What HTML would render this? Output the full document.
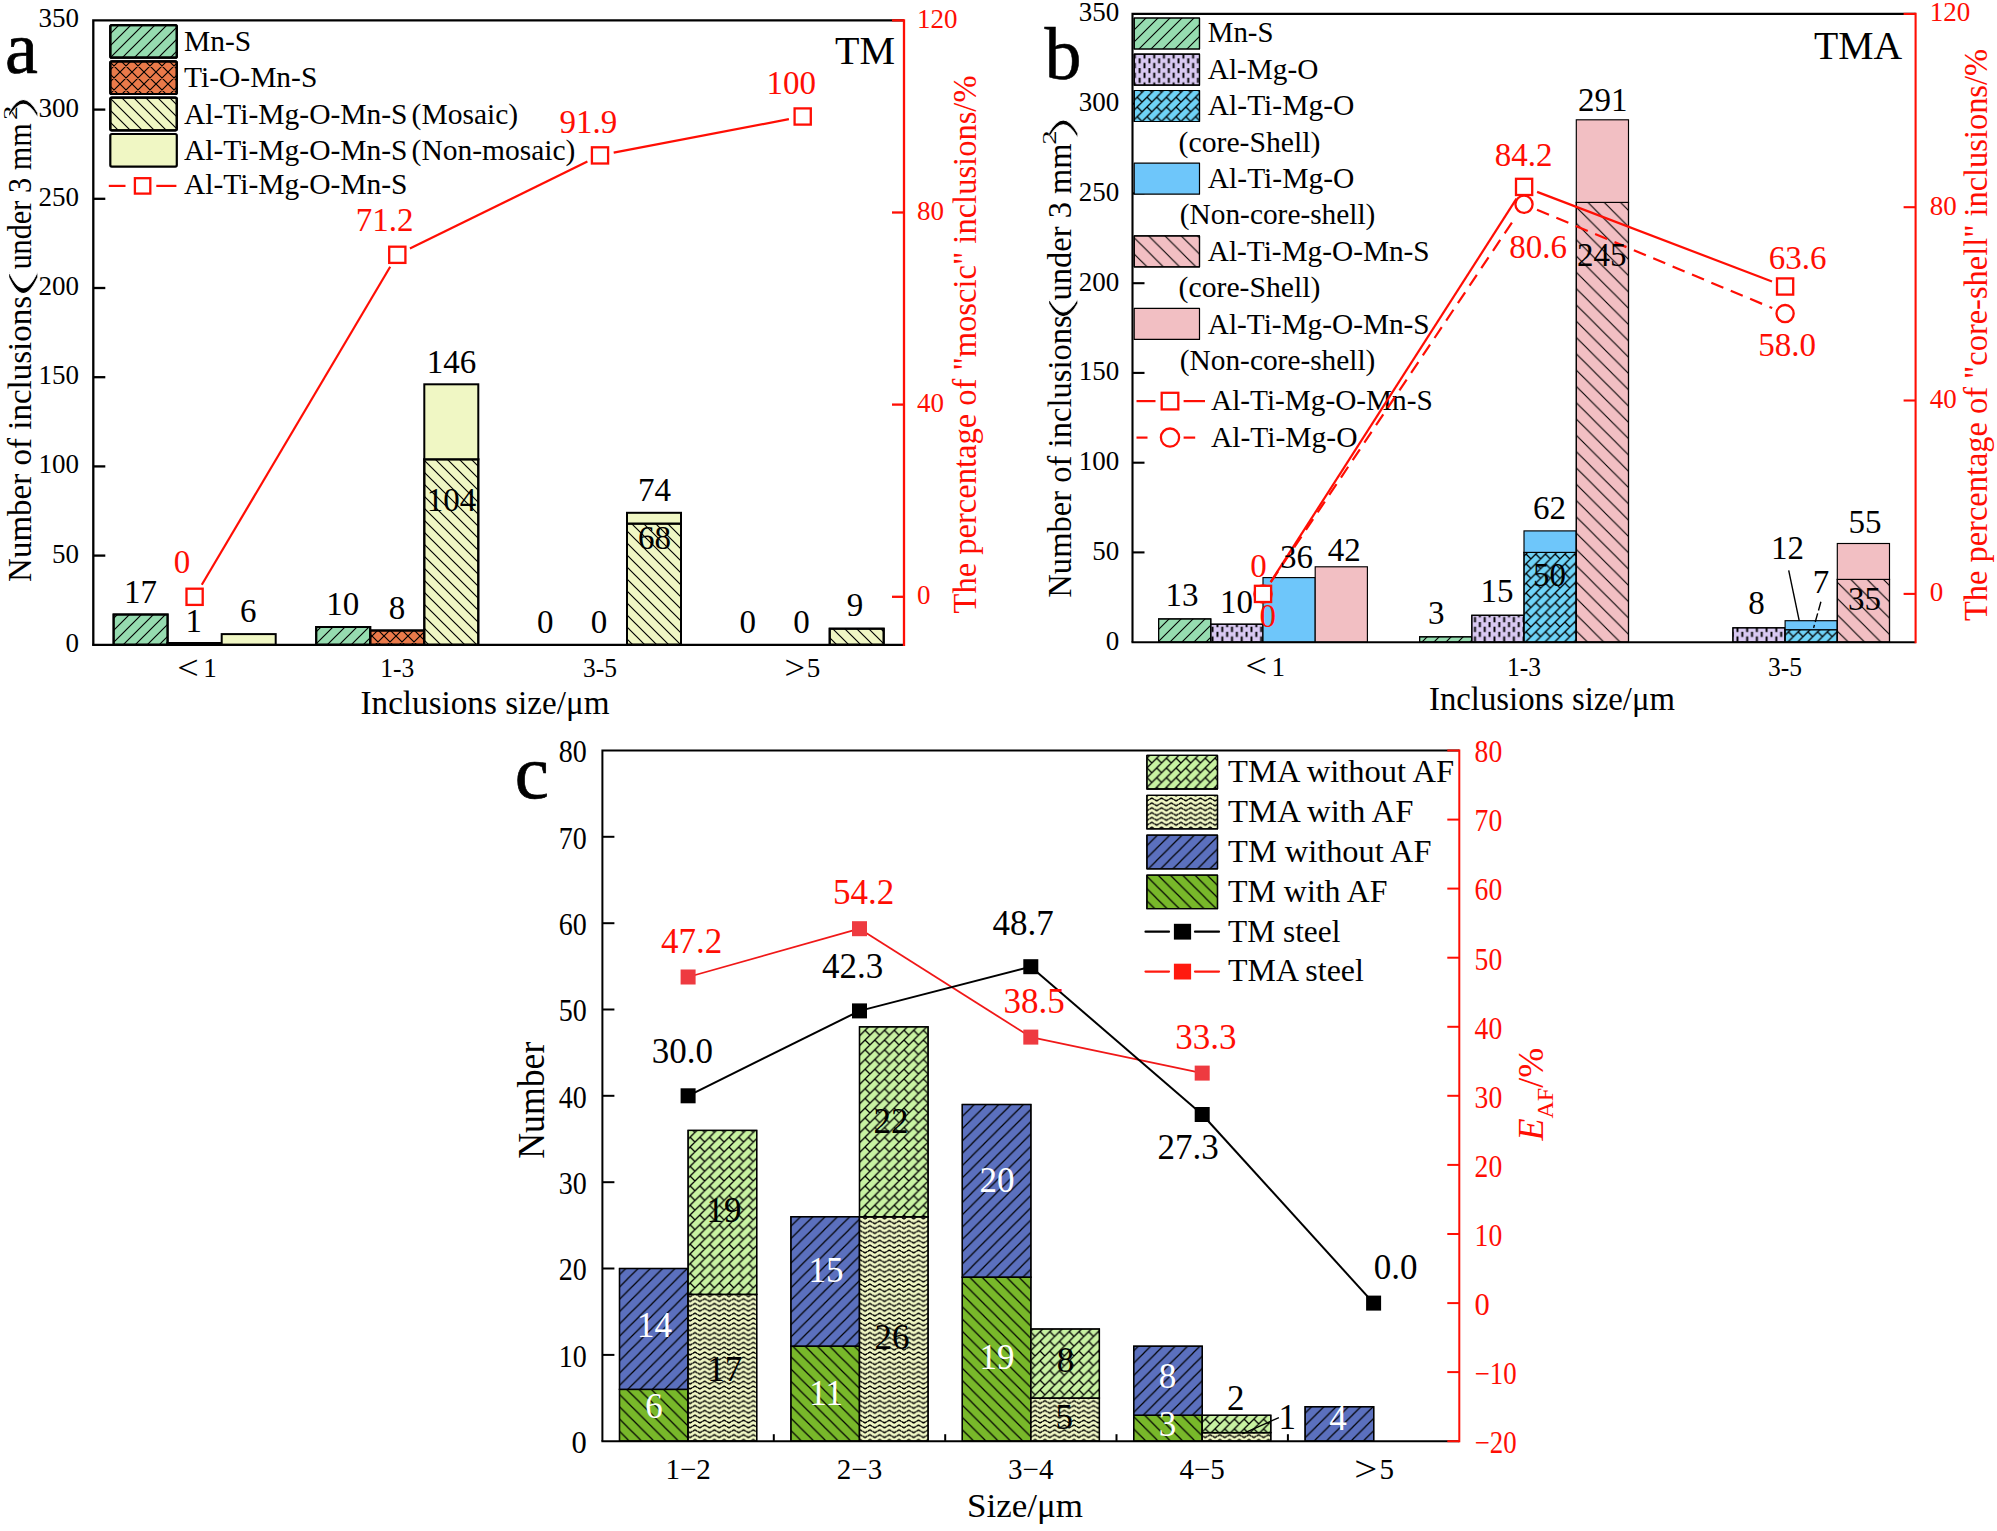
<!DOCTYPE html>
<html lang="en"><head><meta charset="utf-8"><title>Inclusion statistics</title>
<style>html,body{margin:0;padding:0;background:#fff}body{width:1997px;height:1531px}svg{display:block}text{font-family:"Liberation Serif",serif}</style></head><body>
<svg width="1997" height="1531" viewBox="0 0 1997 1531">
<rect width="1997" height="1531" fill="#fff"/>
<defs>
<pattern id="hf" width="12" height="12" patternUnits="userSpaceOnUse"><path d="M0,12 L12,0 M-1,1 L1,-1 M11,13 L13,11" stroke="#000" stroke-width="1.15" fill="none"/></pattern>
<pattern id="hb" width="12" height="12" patternUnits="userSpaceOnUse"><path d="M0,0 L12,12 M-1,11 L1,13 M11,-1 L13,1" stroke="#000" stroke-width="1.15" fill="none"/></pattern>
<pattern id="hbw" width="16.3" height="16.3" patternUnits="userSpaceOnUse"><path d="M0,0 L16.3,16.3 M-1,15.3 L1,17.3 M15.3,-1 L17.3,1" stroke="#000" stroke-width="1.1" fill="none"/></pattern>
<pattern id="hfb" width="12" height="12" patternUnits="userSpaceOnUse"><path d="M0,12 L12,0 M-1,1 L1,-1 M11,13 L13,11" stroke="#000" stroke-width="1.1" fill="none"/></pattern>
<pattern id="hf13" width="12.3" height="12.3" patternUnits="userSpaceOnUse"><path d="M0,12.3 L12.3,0 M-1,1 L1,-1 M11.3,13.3 L13.3,11.3" stroke="#000" stroke-width="1.2" fill="none"/></pattern>
<pattern id="hb13" width="12.3" height="12.3" patternUnits="userSpaceOnUse"><path d="M0,0 L12.3,12.3 M-1,11.3 L1,13.3 M11.3,-1 L13.3,1" stroke="#000" stroke-width="1.2" fill="none"/></pattern>
<pattern id="hx" width="12" height="12" patternUnits="userSpaceOnUse"><path d="M0,12 L12,0 M-1,1 L1,-1 M11,13 L13,11 M0,0 L12,12 M-1,11 L1,13 M11,-1 L13,1" stroke="#000" stroke-width="1.15" fill="none"/></pattern>
<pattern id="br" width="9.72" height="9.72" patternUnits="userSpaceOnUse"><path d="M0,9.72 L9.72,0 M-1,1 L1,-1 M8.72,10.72 L10.72,8.72 M0,0 L4.86,4.86 M9.72,9.72 L10.22,10.22" stroke="#000" stroke-width="1.3" fill="none"/></pattern>
<pattern id="zz" width="9.72" height="4.86" patternUnits="userSpaceOnUse"><path d="M-4.86,1.13 L0,3.73 L4.86,1.13 L9.72,3.73 L14.58,1.13" stroke="#000" stroke-width="0.8" fill="none" stroke-linejoin="miter"/><path d="M-1.90,2.71 L0,3.73 L1.90,2.71 M7.82,2.71 L9.72,3.73 L11.62,2.71 M2.96,2.15 L4.86,1.13 L6.76,2.15" stroke="#000" stroke-width="1.35" fill="none" stroke-linejoin="miter"/></pattern>
<pattern id="vd" width="9.72" height="9.72" patternUnits="userSpaceOnUse"><path d="M2.43,-0.3 V5.16 M7.29,4.56 V10.02 M7.29,-0.5 V0.3" stroke="#000" stroke-width="1.9" fill="none"/></pattern>
</defs>
<g id="chart-a">
<rect x="113.6" y="614.5" width="54.0" height="30.3" fill="#96dcb0" stroke="#000" stroke-width="2"/>
<rect x="113.6" y="614.5" width="54.0" height="30.3" fill="url(#hf)" stroke="#000" stroke-width="2"/>
<rect x="167.6" y="643.0" width="54.0" height="1.8" fill="#ea7a4a" stroke="#000" stroke-width="2"/>
<rect x="167.6" y="643.0" width="54.0" height="1.8" fill="url(#hx)" stroke="#000" stroke-width="2"/>
<rect x="221.7" y="634.1" width="54.0" height="10.7" fill="#f0f7c4" stroke="#000" stroke-width="2"/>
<rect x="316.2" y="627.0" width="54.0" height="17.8" fill="#96dcb0" stroke="#000" stroke-width="2"/>
<rect x="316.2" y="627.0" width="54.0" height="17.8" fill="url(#hf)" stroke="#000" stroke-width="2"/>
<rect x="370.3" y="630.5" width="54.0" height="14.3" fill="#ea7a4a" stroke="#000" stroke-width="2"/>
<rect x="370.3" y="630.5" width="54.0" height="14.3" fill="url(#hx)" stroke="#000" stroke-width="2"/>
<rect x="424.3" y="459.3" width="54.0" height="185.5" fill="#f0f7c4" stroke="#000" stroke-width="2"/>
<rect x="424.3" y="459.3" width="54.0" height="185.5" fill="url(#hb)" stroke="#000" stroke-width="2"/>
<rect x="424.3" y="384.3" width="54.0" height="74.9" fill="#f0f7c4" stroke="#000" stroke-width="2"/>
<rect x="627.0" y="523.5" width="54.0" height="121.3" fill="#f0f7c4" stroke="#000" stroke-width="2"/>
<rect x="627.0" y="523.5" width="54.0" height="121.3" fill="url(#hb)" stroke="#000" stroke-width="2"/>
<rect x="627.0" y="512.8" width="54.0" height="10.7" fill="#f0f7c4" stroke="#000" stroke-width="2"/>
<rect x="829.7" y="628.7" width="54.0" height="16.1" fill="#f0f7c4" stroke="#000" stroke-width="2"/>
<rect x="829.7" y="628.7" width="54.0" height="16.1" fill="url(#hb)" stroke="#000" stroke-width="2"/>
<path d="M93.3,644.8 V20.4 H904.0" fill="none" stroke="#000" stroke-width="2.3" stroke-linejoin="miter"/>
<line x1="92.1" y1="644.8" x2="904.0" y2="644.8" stroke="#000" stroke-width="2.3"/>
<line x1="93.3" y1="555.6" x2="105.3" y2="555.6" stroke="#000" stroke-width="2.3"/>
<line x1="93.3" y1="466.4" x2="105.3" y2="466.4" stroke="#000" stroke-width="2.3"/>
<line x1="93.3" y1="377.2" x2="105.3" y2="377.2" stroke="#000" stroke-width="2.3"/>
<line x1="93.3" y1="288.0" x2="105.3" y2="288.0" stroke="#000" stroke-width="2.3"/>
<line x1="93.3" y1="198.8" x2="105.3" y2="198.8" stroke="#000" stroke-width="2.3"/>
<line x1="93.3" y1="109.6" x2="105.3" y2="109.6" stroke="#000" stroke-width="2.3"/>
<line x1="904.0" y1="19.2" x2="904.0" y2="645.9" stroke="#ff0e04" stroke-width="2.3"/>
<line x1="892.0" y1="596.8" x2="904.0" y2="596.8" stroke="#ff0e04" stroke-width="2.3"/>
<line x1="892.0" y1="404.6" x2="904.0" y2="404.6" stroke="#ff0e04" stroke-width="2.3"/>
<line x1="892.0" y1="212.5" x2="904.0" y2="212.5" stroke="#ff0e04" stroke-width="2.3"/>
<line x1="892.0" y1="20.4" x2="904.0" y2="20.4" stroke="#ff0e04" stroke-width="2.3"/>
<text x="79.1" y="651.8" font-size="27" text-anchor="end">0</text>
<text x="79.1" y="562.6" font-size="27" text-anchor="end">50</text>
<text x="79.1" y="473.4" font-size="27" text-anchor="end">100</text>
<text x="79.1" y="384.2" font-size="27" text-anchor="end">150</text>
<text x="79.1" y="295.0" font-size="27" text-anchor="end">200</text>
<text x="79.1" y="205.8" font-size="27" text-anchor="end">250</text>
<text x="79.1" y="116.6" font-size="27" text-anchor="end">300</text>
<text x="79.1" y="27.4" font-size="27" text-anchor="end">350</text>
<text x="917.0" y="604.3" font-size="27" fill="#ff0e04">0</text>
<text x="917.0" y="412.1" font-size="27" fill="#ff0e04">40</text>
<text x="917.0" y="220.0" font-size="27" fill="#ff0e04">80</text>
<text x="917.0" y="27.9" font-size="27" fill="#ff0e04">120</text>
<text x="397.3" y="677.2" font-size="27" text-anchor="middle" textLength="34.0" lengthAdjust="spacingAndGlyphs">1-3</text>
<text x="600.0" y="677.2" font-size="27" text-anchor="middle" textLength="34.0" lengthAdjust="spacingAndGlyphs">3-5</text>
<text y="677.4" font-size="27"><tspan x="177.3" dy="1.6" font-size="33.8" textLength="21.5" lengthAdjust="spacingAndGlyphs">&lt;</tspan><tspan x="203.3" dy="-1.6">1</tspan></text>
<text y="677.4" font-size="27"><tspan x="784.6" dy="1.6" font-size="33.8" textLength="20.5" lengthAdjust="spacingAndGlyphs">&gt;</tspan><tspan x="806.8" dy="-1.6">5</tspan></text>
<text x="485.0" y="713.6" font-size="33" text-anchor="middle" textLength="249.0" lengthAdjust="spacingAndGlyphs">Inclusions size/μm</text>
<g transform="translate(31.4,581.9) rotate(-90)">
<text x="0" y="0" font-size="33" textLength="286" lengthAdjust="spacingAndGlyphs">Number of inclusions</text>
<text transform="translate(275.3,2) scale(3.719,1)" font-size="32" style="font-family:DejaVu Sans,sans-serif;font-weight:200" stroke="#fff" stroke-width="0.3">(</text>
<text x="312.3" y="0" font-size="33" textLength="146.5" lengthAdjust="spacingAndGlyphs">under 3 mm</text>
<text transform="translate(461.8,-14.9) scale(1.55,1)" font-size="18.5">2</text>
<text transform="translate(454.4,2) scale(3.041,1)" font-size="32" style="font-family:DejaVu Sans,sans-serif;font-weight:200" stroke="#fff" stroke-width="0.3">)</text>
</g>
<text transform="translate(975.7,613.5) rotate(-90)" font-size="33" fill="#ff0e04" textLength="538" lengthAdjust="spacingAndGlyphs">The percentage of "moscic" inclusions/%</text>
<line x1="201.8" y1="584.7" x2="390.2" y2="266.8" stroke="#ff0e04" stroke-width="2.2"/>
<line x1="409.9" y1="248.6" x2="587.4" y2="161.5" stroke="#ff0e04" stroke-width="2.2"/>
<line x1="613.7" y1="152.7" x2="788.9" y2="119.1" stroke="#ff0e04" stroke-width="2.2"/>
<rect x="186.5" y="588.7" width="16.2" height="16.2" fill="#fff" stroke="#ff0e04" stroke-width="2.3"/>
<rect x="389.2" y="246.7" width="16.2" height="16.2" fill="#fff" stroke="#ff0e04" stroke-width="2.3"/>
<rect x="591.9" y="147.3" width="16.2" height="16.2" fill="#fff" stroke="#ff0e04" stroke-width="2.3"/>
<rect x="794.6" y="108.4" width="16.2" height="16.2" fill="#fff" stroke="#ff0e04" stroke-width="2.3"/>
<text x="384.6" y="231.3" font-size="33" text-anchor="middle" fill="#ff0e04">71.2</text>
<text x="588.4" y="132.7" font-size="33" text-anchor="middle" fill="#ff0e04">91.9</text>
<text x="791.2" y="93.6" font-size="33" text-anchor="middle" fill="#ff0e04">100</text>
<text x="182.0" y="573.0" font-size="33" text-anchor="middle" fill="#ff0e04">0</text>
<text x="140.4" y="603.1" font-size="33" text-anchor="middle">17</text>
<text x="193.8" y="631.8" font-size="33" text-anchor="middle">1</text>
<text x="248.2" y="621.9" font-size="33" text-anchor="middle">6</text>
<text x="342.7" y="614.8" font-size="33" text-anchor="middle">10</text>
<text x="397.0" y="618.8" font-size="33" text-anchor="middle">8</text>
<text x="451.4" y="372.8" font-size="33" text-anchor="middle">146</text>
<text x="451.4" y="511.0" font-size="33" text-anchor="middle">104</text>
<text x="654.5" y="500.6" font-size="33" text-anchor="middle">74</text>
<text x="654.5" y="549.2" font-size="33" text-anchor="middle">68</text>
<text x="545.3" y="632.8" font-size="33" text-anchor="middle">0</text>
<text x="598.9" y="632.8" font-size="33" text-anchor="middle">0</text>
<text x="747.8" y="632.8" font-size="33" text-anchor="middle">0</text>
<text x="801.4" y="632.8" font-size="33" text-anchor="middle">0</text>
<text x="855.0" y="616.3" font-size="33" text-anchor="middle">9</text>
<text x="5.0" y="72.5" font-size="74" stroke="#000" stroke-width="0.7">a</text>
<text x="835.0" y="64.0" font-size="40" textLength="60.0" lengthAdjust="spacingAndGlyphs">TM</text>
<rect x="110.3" y="25.1" width="66.5" height="32.6" fill="#96dcb0" stroke="#000" stroke-width="2.2" rx="1.5" stroke-linejoin="round"/>
<rect x="110.3" y="25.1" width="66.5" height="32.6" fill="url(#hf)" stroke="#000" stroke-width="2.2" rx="1.5" stroke-linejoin="round"/>
<text x="184.0" y="50.8" font-size="29.5">Mn-S</text>
<rect x="110.3" y="61.4" width="66.5" height="32.6" fill="#ea7a4a" stroke="#000" stroke-width="2.2" rx="1.5" stroke-linejoin="round"/>
<rect x="110.3" y="61.4" width="66.5" height="32.6" fill="url(#hx)" stroke="#000" stroke-width="2.2" rx="1.5" stroke-linejoin="round"/>
<text x="184.0" y="87.0" font-size="29.5">Ti-O-Mn-S</text>
<rect x="110.3" y="97.7" width="66.5" height="32.6" fill="#f0f7c4" stroke="#000" stroke-width="2.2" rx="1.5" stroke-linejoin="round"/>
<rect x="110.3" y="97.7" width="66.5" height="32.6" fill="url(#hb)" stroke="#000" stroke-width="2.2" rx="1.5" stroke-linejoin="round"/>
<text y="123.5" font-size="29.5"><tspan x="184">Al-Ti-Mg-O-Mn-S</tspan><tspan x="411.6">(Mosaic)</tspan></text>
<rect x="110.3" y="134.0" width="66.5" height="32.6" fill="#f0f7c4" stroke="#000" stroke-width="2.2" rx="1.5" stroke-linejoin="round"/>
<text y="159.8" font-size="29.5"><tspan x="184">Al-Ti-Mg-O-Mn-S</tspan><tspan x="411.6">(Non-mosaic)</tspan></text>
<line x1="108.8" y1="185.9" x2="125.5" y2="185.9" stroke="#ff0e04" stroke-width="2.2"/>
<line x1="156.3" y1="185.9" x2="176.4" y2="185.9" stroke="#ff0e04" stroke-width="2.2"/>
<rect x="134.9" y="178.2" width="15.4" height="15.4" fill="#fff" stroke="#ff0e04" stroke-width="2.3"/>
<text x="184.0" y="193.6" font-size="29.5">Al-Ti-Mg-O-Mn-S</text>
</g>
<g id="chart-b">
<rect x="1158.6" y="618.9" width="52.2" height="23.3" fill="#96dcb0" stroke="#000" stroke-width="1.15"/>
<rect x="1158.6" y="618.9" width="52.2" height="23.3" fill="url(#hfb)" stroke="#000" stroke-width="1.15"/>
<rect x="1210.8" y="624.2" width="52.2" height="18.0" fill="#d9c9f2" stroke="#000" stroke-width="1.15"/>
<rect x="1210.8" y="624.2" width="52.2" height="18.0" fill="url(#vd)" stroke="#000" stroke-width="1.15"/>
<rect x="1263.0" y="577.6" width="52.2" height="64.6" fill="#6ec6fa" stroke="#000" stroke-width="1.15"/>
<rect x="1315.2" y="566.8" width="52.2" height="75.4" fill="#f2bfc3" stroke="#000" stroke-width="1.15"/>
<rect x="1419.6" y="636.8" width="52.2" height="5.4" fill="#96dcb0" stroke="#000" stroke-width="1.15"/>
<rect x="1419.6" y="636.8" width="52.2" height="5.4" fill="url(#hfb)" stroke="#000" stroke-width="1.15"/>
<rect x="1471.8" y="615.3" width="52.2" height="26.9" fill="#d9c9f2" stroke="#000" stroke-width="1.15"/>
<rect x="1471.8" y="615.3" width="52.2" height="26.9" fill="url(#vd)" stroke="#000" stroke-width="1.15"/>
<rect x="1524.0" y="552.4" width="52.2" height="89.8" fill="#6fd3f7" stroke="#000" stroke-width="1.15"/>
<rect x="1524.0" y="552.4" width="52.2" height="89.8" fill="url(#br)" stroke="#000" stroke-width="1.15"/>
<rect x="1524.0" y="530.9" width="52.2" height="21.5" fill="#6ec6fa" stroke="#000" stroke-width="1.15"/>
<rect x="1576.3" y="202.4" width="52.2" height="439.8" fill="#f2bfc3" stroke="#000" stroke-width="1.15"/>
<rect x="1576.3" y="202.4" width="52.2" height="439.8" fill="url(#hbw)" stroke="#000" stroke-width="1.15"/>
<rect x="1576.3" y="119.8" width="52.2" height="82.6" fill="#f2bfc3" stroke="#000" stroke-width="1.15"/>
<rect x="1732.9" y="627.8" width="52.2" height="14.4" fill="#d9c9f2" stroke="#000" stroke-width="1.15"/>
<rect x="1732.9" y="627.8" width="52.2" height="14.4" fill="url(#vd)" stroke="#000" stroke-width="1.15"/>
<rect x="1785.1" y="629.6" width="52.2" height="12.6" fill="#6fd3f7" stroke="#000" stroke-width="1.15"/>
<rect x="1785.1" y="629.6" width="52.2" height="12.6" fill="url(#br)" stroke="#000" stroke-width="1.15"/>
<rect x="1785.1" y="620.7" width="52.2" height="9.0" fill="#6ec6fa" stroke="#000" stroke-width="1.15"/>
<rect x="1837.3" y="579.4" width="52.2" height="62.8" fill="#f2bfc3" stroke="#000" stroke-width="1.15"/>
<rect x="1837.3" y="579.4" width="52.2" height="62.8" fill="url(#hbw)" stroke="#000" stroke-width="1.15"/>
<rect x="1837.3" y="543.5" width="52.2" height="35.9" fill="#f2bfc3" stroke="#000" stroke-width="1.15"/>
<path d="M1132.5,642.2 V13.9 H1915.6" fill="none" stroke="#000" stroke-width="2.1"/>
<line x1="1131.5" y1="642.2" x2="1915.6" y2="642.2" stroke="#000" stroke-width="2.1"/>
<line x1="1132.5" y1="552.4" x2="1144.5" y2="552.4" stroke="#000" stroke-width="2.1"/>
<line x1="1132.5" y1="462.7" x2="1144.5" y2="462.7" stroke="#000" stroke-width="2.1"/>
<line x1="1132.5" y1="372.9" x2="1144.5" y2="372.9" stroke="#000" stroke-width="2.1"/>
<line x1="1132.5" y1="283.2" x2="1144.5" y2="283.2" stroke="#000" stroke-width="2.1"/>
<line x1="1132.5" y1="193.4" x2="1144.5" y2="193.4" stroke="#000" stroke-width="2.1"/>
<line x1="1132.5" y1="103.7" x2="1144.5" y2="103.7" stroke="#000" stroke-width="2.1"/>
<line x1="1915.6" y1="12.8" x2="1915.6" y2="643.2" stroke="#ff0e04" stroke-width="2.1"/>
<line x1="1903.6" y1="593.9" x2="1915.6" y2="593.9" stroke="#ff0e04" stroke-width="2.1"/>
<line x1="1903.6" y1="400.5" x2="1915.6" y2="400.5" stroke="#ff0e04" stroke-width="2.1"/>
<line x1="1903.6" y1="207.2" x2="1915.6" y2="207.2" stroke="#ff0e04" stroke-width="2.1"/>
<line x1="1903.6" y1="13.9" x2="1915.6" y2="13.9" stroke="#ff0e04" stroke-width="2.1"/>
<text x="1119.2" y="649.5" font-size="27" text-anchor="end">0</text>
<text x="1119.2" y="559.7" font-size="27" text-anchor="end">50</text>
<text x="1119.2" y="470.0" font-size="27" text-anchor="end">100</text>
<text x="1119.2" y="380.2" font-size="27" text-anchor="end">150</text>
<text x="1119.2" y="290.5" font-size="27" text-anchor="end">200</text>
<text x="1119.2" y="200.7" font-size="27" text-anchor="end">250</text>
<text x="1119.2" y="111.0" font-size="27" text-anchor="end">300</text>
<text x="1119.2" y="21.2" font-size="27" text-anchor="end">350</text>
<text x="1929.8" y="601.4" font-size="27" fill="#ff0e04">0</text>
<text x="1929.8" y="408.0" font-size="27" fill="#ff0e04">40</text>
<text x="1929.8" y="214.7" font-size="27" fill="#ff0e04">80</text>
<text x="1929.8" y="21.4" font-size="27" fill="#ff0e04">120</text>
<text x="1524.0" y="675.6" font-size="27" text-anchor="middle" textLength="34.0" lengthAdjust="spacingAndGlyphs">1-3</text>
<text x="1785.1" y="675.6" font-size="27" text-anchor="middle" textLength="34.0" lengthAdjust="spacingAndGlyphs">3-5</text>
<text y="675.8" font-size="27"><tspan x="1245.6" dy="1.6" font-size="33.8" textLength="21.5" lengthAdjust="spacingAndGlyphs">&lt;</tspan><tspan x="1271.6" dy="-1.6">1</tspan></text>
<text x="1552.0" y="709.8" font-size="33" text-anchor="middle" textLength="246.0" lengthAdjust="spacingAndGlyphs">Inclusions size/μm</text>
<g transform="translate(1071.3,597.7) rotate(-90)">
<text x="0" y="0" font-size="33" textLength="282.5" lengthAdjust="spacingAndGlyphs">Number of inclusions</text>
<text transform="translate(270.1,2) scale(3.062,1)" font-size="32" style="font-family:DejaVu Sans,sans-serif;font-weight:200" stroke="#fff" stroke-width="0.3">(</text>
<text x="297.3" y="0" font-size="33" textLength="157" lengthAdjust="spacingAndGlyphs">under 3 mm</text>
<text transform="translate(452.9,-14.9) scale(1.55,1)" font-size="18.5">2</text>
<text transform="translate(449.8,2) scale(3.041,1)" font-size="32" style="font-family:DejaVu Sans,sans-serif;font-weight:200" stroke="#fff" stroke-width="0.3">)</text>
</g>
<text transform="translate(1986.5,621) rotate(-90)" font-size="33" fill="#ff0e04" textLength="572" lengthAdjust="spacingAndGlyphs">The percentage of "core-shell" inclusions/%</text>
<rect x="1134.2" y="18.0" width="65.3" height="31.0" fill="#96dcb0" stroke="#000" stroke-width="1.2" stroke-linejoin="round"/>
<rect x="1134.2" y="18.0" width="65.3" height="31.0" fill="url(#hfb)" stroke="#000" stroke-width="1.2" stroke-linejoin="round"/>
<rect x="1134.2" y="54.2" width="65.3" height="31.0" fill="#d9c9f2" stroke="#000" stroke-width="1.2" stroke-linejoin="round"/>
<rect x="1134.2" y="54.2" width="65.3" height="31.0" fill="url(#vd)" stroke="#000" stroke-width="1.2" stroke-linejoin="round"/>
<rect x="1134.2" y="90.5" width="65.3" height="31.0" fill="#6fd3f7" stroke="#000" stroke-width="1.2" stroke-linejoin="round"/>
<rect x="1134.2" y="90.5" width="65.3" height="31.0" fill="url(#br)" stroke="#000" stroke-width="1.2" stroke-linejoin="round"/>
<rect x="1134.2" y="163.2" width="65.3" height="31.0" fill="#6ec6fa" stroke="#000" stroke-width="1.2" stroke-linejoin="round"/>
<rect x="1134.2" y="235.8" width="65.3" height="31.0" fill="#f2bfc3" stroke="#000" stroke-width="1.2" stroke-linejoin="round"/>
<rect x="1134.2" y="235.8" width="65.3" height="31.0" fill="url(#hbw)" stroke="#000" stroke-width="1.2" stroke-linejoin="round"/>
<rect x="1134.2" y="308.4" width="65.3" height="31.0" fill="#f2bfc3" stroke="#000" stroke-width="1.2" stroke-linejoin="round"/>
<text x="1207.8" y="42.3" font-size="28.8">Mn-S</text>
<text x="1207.8" y="78.7" font-size="28.8" textLength="110.5" lengthAdjust="spacingAndGlyphs">Al-Mg-O</text>
<text x="1207.8" y="115.2" font-size="28.8" textLength="146.5" lengthAdjust="spacingAndGlyphs">Al-Ti-Mg-O</text>
<text x="1178.6" y="151.6" font-size="28.8" textLength="141.8" lengthAdjust="spacingAndGlyphs">(core-Shell)</text>
<text x="1207.8" y="188.0" font-size="28.8" textLength="146.5" lengthAdjust="spacingAndGlyphs">Al-Ti-Mg-O</text>
<text x="1179.8" y="224.4" font-size="28.8" textLength="195.6" lengthAdjust="spacingAndGlyphs">(Non-core-shell)</text>
<text x="1207.8" y="260.9" font-size="28.8" textLength="221.8" lengthAdjust="spacingAndGlyphs">Al-Ti-Mg-O-Mn-S</text>
<text x="1178.6" y="297.3" font-size="28.8" textLength="141.8" lengthAdjust="spacingAndGlyphs">(core-Shell)</text>
<text x="1207.8" y="333.7" font-size="28.8" textLength="221.8" lengthAdjust="spacingAndGlyphs">Al-Ti-Mg-O-Mn-S</text>
<text x="1179.8" y="370.2" font-size="28.8" textLength="195.6" lengthAdjust="spacingAndGlyphs">(Non-core-shell)</text>
<text x="1211.0" y="410.2" font-size="28.8" textLength="221.8" lengthAdjust="spacingAndGlyphs">Al-Ti-Mg-O-Mn-S</text>
<text x="1211.0" y="446.5" font-size="28.8" textLength="146.5" lengthAdjust="spacingAndGlyphs">Al-Ti-Mg-O</text>
<line x1="1270.8" y1="582.2" x2="1516.3" y2="216.0" stroke="#ff0e04" stroke-width="2.2" stroke-dasharray="13 8"/>
<line x1="1537.0" y1="209.7" x2="1772.2" y2="308.1" stroke="#ff0e04" stroke-width="2.2" stroke-dasharray="13 8"/>
<line x1="1270.6" y1="582.1" x2="1516.5" y2="198.7" stroke="#ff0e04" stroke-width="2.2"/>
<line x1="1537.1" y1="191.9" x2="1772.0" y2="281.5" stroke="#ff0e04" stroke-width="2.2"/>
<circle cx="1263.0" cy="593.9" r="8.6" fill="#fff" stroke="#ff0e04" stroke-width="2.3"/>
<circle cx="1524.0" cy="204.3" r="8.6" fill="#fff" stroke="#ff0e04" stroke-width="2.3"/>
<circle cx="1785.1" cy="313.6" r="8.6" fill="#fff" stroke="#ff0e04" stroke-width="2.3"/>
<rect x="1254.9" y="585.8" width="16.2" height="16.2" fill="#fff" stroke="#ff0e04" stroke-width="2.3"/>
<rect x="1516.0" y="178.8" width="16.2" height="16.2" fill="#fff" stroke="#ff0e04" stroke-width="2.3"/>
<rect x="1777.0" y="278.4" width="16.2" height="16.2" fill="#fff" stroke="#ff0e04" stroke-width="2.3"/>
<line x1="1136.5" y1="401.1" x2="1155.5" y2="401.1" stroke="#ff0e04" stroke-width="2.2"/>
<line x1="1183.6" y1="401.1" x2="1205.0" y2="401.1" stroke="#ff0e04" stroke-width="2.2"/>
<rect x="1161.7" y="392.8" width="16.6" height="16.6" fill="#fff" stroke="#ff0e04" stroke-width="2.3"/>
<line x1="1136.5" y1="437.6" x2="1147.5" y2="437.6" stroke="#ff0e04" stroke-width="2.2"/>
<line x1="1183.6" y1="437.6" x2="1195.2" y2="437.6" stroke="#ff0e04" stroke-width="2.2"/>
<circle cx="1170.0" cy="437.6" r="9.1" fill="#fff" stroke="#ff0e04" stroke-width="2.3"/>
<text x="1523.5" y="165.9" font-size="33" text-anchor="middle" fill="#ff0e04">84.2</text>
<text x="1538.1" y="257.7" font-size="33" text-anchor="middle" fill="#ff0e04">80.6</text>
<text x="1797.6" y="269.0" font-size="33" text-anchor="middle" fill="#ff0e04">63.6</text>
<text x="1787.1" y="356.0" font-size="33" text-anchor="middle" fill="#ff0e04">58.0</text>
<text x="1258.6" y="576.9" font-size="33" text-anchor="middle" fill="#ff0e04">0</text>
<text x="1267.8" y="626.5" font-size="33" text-anchor="middle" fill="#ff0e04">0</text>
<text x="1182.1" y="605.6" font-size="33" text-anchor="middle">13</text>
<text x="1236.4" y="613.4" font-size="33" text-anchor="middle">10</text>
<text x="1296.5" y="568.2" font-size="33" text-anchor="middle">36</text>
<text x="1344.3" y="561.2" font-size="33" text-anchor="middle">42</text>
<text x="1436.3" y="623.9" font-size="33" text-anchor="middle">3</text>
<text x="1497.0" y="601.6" font-size="33" text-anchor="middle">15</text>
<text x="1549.6" y="518.7" font-size="33" text-anchor="middle">62</text>
<text x="1549.6" y="585.6" font-size="33" text-anchor="middle">50</text>
<text x="1602.7" y="111.2" font-size="33" text-anchor="middle">291</text>
<text x="1601.8" y="266.0" font-size="33" text-anchor="middle">245</text>
<text x="1756.6" y="613.5" font-size="33" text-anchor="middle">8</text>
<text x="1787.4" y="558.6" font-size="33" text-anchor="middle">12</text>
<text x="1820.9" y="593.4" font-size="33" text-anchor="middle">7</text>
<text x="1865.0" y="532.5" font-size="33" text-anchor="middle">55</text>
<text x="1864.5" y="610.4" font-size="33" text-anchor="middle">35</text>
<line x1="1788.7" y1="570.4" x2="1799.2" y2="620.6" stroke="#000" stroke-width="1.4"/>
<line x1="1820.9" y1="601.8" x2="1813.6" y2="627.9" stroke="#000" stroke-width="1.4" stroke-dasharray="9 3"/>
<text x="1044.6" y="79.0" font-size="74" stroke="#000" stroke-width="0.5">b</text>
<text x="1814.0" y="59.2" font-size="40" textLength="88.2" lengthAdjust="spacingAndGlyphs">TMA</text>
</g>
<g id="chart-c">
<rect x="619.5" y="1389.4" width="68.6" height="51.8" fill="#78b82a" stroke="#000" stroke-width="1.3"/>
<rect x="619.5" y="1389.4" width="68.6" height="51.8" fill="url(#hb13)" stroke="#000" stroke-width="1.3"/>
<rect x="619.5" y="1268.5" width="68.6" height="120.9" fill="#5b70be" stroke="#000" stroke-width="1.3"/>
<rect x="619.5" y="1268.5" width="68.6" height="120.9" fill="url(#hf13)" stroke="#000" stroke-width="1.3"/>
<rect x="688.1" y="1294.4" width="68.6" height="146.8" fill="#f0f7c4" stroke="#000" stroke-width="1.3"/>
<rect x="688.1" y="1294.4" width="68.6" height="146.8" fill="url(#zz)" stroke="#000" stroke-width="1.3"/>
<rect x="688.1" y="1130.4" width="68.6" height="164.0" fill="#c8f2a2" stroke="#000" stroke-width="1.3"/>
<rect x="688.1" y="1130.4" width="68.6" height="164.0" fill="url(#br)" stroke="#000" stroke-width="1.3"/>
<rect x="790.9" y="1346.2" width="68.6" height="95.0" fill="#78b82a" stroke="#000" stroke-width="1.3"/>
<rect x="790.9" y="1346.2" width="68.6" height="95.0" fill="url(#hb13)" stroke="#000" stroke-width="1.3"/>
<rect x="790.9" y="1216.7" width="68.6" height="129.5" fill="#5b70be" stroke="#000" stroke-width="1.3"/>
<rect x="790.9" y="1216.7" width="68.6" height="129.5" fill="url(#hf13)" stroke="#000" stroke-width="1.3"/>
<rect x="859.5" y="1216.7" width="68.6" height="224.5" fill="#f0f7c4" stroke="#000" stroke-width="1.3"/>
<rect x="859.5" y="1216.7" width="68.6" height="224.5" fill="url(#zz)" stroke="#000" stroke-width="1.3"/>
<rect x="859.5" y="1026.8" width="68.6" height="189.9" fill="#c8f2a2" stroke="#000" stroke-width="1.3"/>
<rect x="859.5" y="1026.8" width="68.6" height="189.9" fill="url(#br)" stroke="#000" stroke-width="1.3"/>
<rect x="962.3" y="1277.2" width="68.6" height="164.0" fill="#78b82a" stroke="#000" stroke-width="1.3"/>
<rect x="962.3" y="1277.2" width="68.6" height="164.0" fill="url(#hb13)" stroke="#000" stroke-width="1.3"/>
<rect x="962.3" y="1104.5" width="68.6" height="172.7" fill="#5b70be" stroke="#000" stroke-width="1.3"/>
<rect x="962.3" y="1104.5" width="68.6" height="172.7" fill="url(#hf13)" stroke="#000" stroke-width="1.3"/>
<rect x="1030.8" y="1398.0" width="68.6" height="43.2" fill="#f0f7c4" stroke="#000" stroke-width="1.3"/>
<rect x="1030.8" y="1398.0" width="68.6" height="43.2" fill="url(#zz)" stroke="#000" stroke-width="1.3"/>
<rect x="1030.8" y="1329.0" width="68.6" height="69.1" fill="#c8f2a2" stroke="#000" stroke-width="1.3"/>
<rect x="1030.8" y="1329.0" width="68.6" height="69.1" fill="url(#br)" stroke="#000" stroke-width="1.3"/>
<rect x="1133.7" y="1415.3" width="68.6" height="25.9" fill="#78b82a" stroke="#000" stroke-width="1.3"/>
<rect x="1133.7" y="1415.3" width="68.6" height="25.9" fill="url(#hb13)" stroke="#000" stroke-width="1.3"/>
<rect x="1133.7" y="1346.2" width="68.6" height="69.1" fill="#5b70be" stroke="#000" stroke-width="1.3"/>
<rect x="1133.7" y="1346.2" width="68.6" height="69.1" fill="url(#hf13)" stroke="#000" stroke-width="1.3"/>
<rect x="1202.2" y="1432.6" width="68.6" height="8.6" fill="#f0f7c4" stroke="#000" stroke-width="1.3"/>
<rect x="1202.2" y="1432.6" width="68.6" height="8.6" fill="url(#zz)" stroke="#000" stroke-width="1.3"/>
<rect x="1202.2" y="1415.3" width="68.6" height="17.3" fill="#c8f2a2" stroke="#000" stroke-width="1.3"/>
<rect x="1202.2" y="1415.3" width="68.6" height="17.3" fill="url(#br)" stroke="#000" stroke-width="1.3"/>
<rect x="1305.1" y="1406.7" width="68.6" height="34.5" fill="#5b70be" stroke="#000" stroke-width="1.3"/>
<rect x="1305.1" y="1406.7" width="68.6" height="34.5" fill="url(#hf13)" stroke="#000" stroke-width="1.3"/>
<path d="M602.4,1441.2 V750.5 H1459.3" fill="none" stroke="#000" stroke-width="2.0"/>
<line x1="601.4" y1="1441.2" x2="1459.3" y2="1441.2" stroke="#000" stroke-width="2.0"/>
<line x1="602.4" y1="1354.9" x2="614.4" y2="1354.9" stroke="#000" stroke-width="2.0"/>
<line x1="602.4" y1="1268.5" x2="614.4" y2="1268.5" stroke="#000" stroke-width="2.0"/>
<line x1="602.4" y1="1182.2" x2="614.4" y2="1182.2" stroke="#000" stroke-width="2.0"/>
<line x1="602.4" y1="1095.8" x2="614.4" y2="1095.8" stroke="#000" stroke-width="2.0"/>
<line x1="602.4" y1="1009.5" x2="614.4" y2="1009.5" stroke="#000" stroke-width="2.0"/>
<line x1="602.4" y1="923.2" x2="614.4" y2="923.2" stroke="#000" stroke-width="2.0"/>
<line x1="602.4" y1="836.8" x2="614.4" y2="836.8" stroke="#000" stroke-width="2.0"/>
<line x1="773.8" y1="1441.2" x2="773.8" y2="1434.2" stroke="#000" stroke-width="2.0"/>
<line x1="945.2" y1="1441.2" x2="945.2" y2="1434.2" stroke="#000" stroke-width="2.0"/>
<line x1="1116.5" y1="1441.2" x2="1116.5" y2="1434.2" stroke="#000" stroke-width="2.0"/>
<line x1="1287.9" y1="1441.2" x2="1287.9" y2="1434.2" stroke="#000" stroke-width="2.0"/>
<line x1="1459.3" y1="749.5" x2="1459.3" y2="1442.2" stroke="#ff0e04" stroke-width="2.0"/>
<line x1="1447.3" y1="1441.2" x2="1459.3" y2="1441.2" stroke="#ff0e04" stroke-width="2.0"/>
<line x1="1447.3" y1="1372.1" x2="1459.3" y2="1372.1" stroke="#ff0e04" stroke-width="2.0"/>
<line x1="1447.3" y1="1303.1" x2="1459.3" y2="1303.1" stroke="#ff0e04" stroke-width="2.0"/>
<line x1="1447.3" y1="1234.0" x2="1459.3" y2="1234.0" stroke="#ff0e04" stroke-width="2.0"/>
<line x1="1447.3" y1="1164.9" x2="1459.3" y2="1164.9" stroke="#ff0e04" stroke-width="2.0"/>
<line x1="1447.3" y1="1095.8" x2="1459.3" y2="1095.8" stroke="#ff0e04" stroke-width="2.0"/>
<line x1="1447.3" y1="1026.8" x2="1459.3" y2="1026.8" stroke="#ff0e04" stroke-width="2.0"/>
<line x1="1447.3" y1="957.7" x2="1459.3" y2="957.7" stroke="#ff0e04" stroke-width="2.0"/>
<line x1="1447.3" y1="888.6" x2="1459.3" y2="888.6" stroke="#ff0e04" stroke-width="2.0"/>
<line x1="1447.3" y1="819.6" x2="1459.3" y2="819.6" stroke="#ff0e04" stroke-width="2.0"/>
<line x1="1447.3" y1="750.5" x2="1459.3" y2="750.5" stroke="#ff0e04" stroke-width="2.0"/>
<text x="586.8" y="1453.0" font-size="30.5" text-anchor="end">0</text>
<text x="586.8" y="1366.7" font-size="30.5" text-anchor="end" textLength="28.0" lengthAdjust="spacingAndGlyphs">10</text>
<text x="586.8" y="1280.3" font-size="30.5" text-anchor="end" textLength="28.0" lengthAdjust="spacingAndGlyphs">20</text>
<text x="586.8" y="1194.0" font-size="30.5" text-anchor="end" textLength="28.0" lengthAdjust="spacingAndGlyphs">30</text>
<text x="586.8" y="1107.6" font-size="30.5" text-anchor="end" textLength="28.0" lengthAdjust="spacingAndGlyphs">40</text>
<text x="586.8" y="1021.3" font-size="30.5" text-anchor="end" textLength="28.0" lengthAdjust="spacingAndGlyphs">50</text>
<text x="586.8" y="935.0" font-size="30.5" text-anchor="end" textLength="28.0" lengthAdjust="spacingAndGlyphs">60</text>
<text x="586.8" y="848.6" font-size="30.5" text-anchor="end" textLength="28.0" lengthAdjust="spacingAndGlyphs">70</text>
<text x="586.8" y="762.3" font-size="30.5" text-anchor="end" textLength="28.0" lengthAdjust="spacingAndGlyphs">80</text>
<text x="1474.6" y="1453.0" font-size="30.5" fill="#ff0e04" textLength="42.0" lengthAdjust="spacingAndGlyphs">−20</text>
<text x="1474.6" y="1383.9" font-size="30.5" fill="#ff0e04" textLength="42.0" lengthAdjust="spacingAndGlyphs">−10</text>
<text x="1474.6" y="1314.9" font-size="30.5" fill="#ff0e04">0</text>
<text x="1474.6" y="1245.8" font-size="30.5" fill="#ff0e04" textLength="27.6" lengthAdjust="spacingAndGlyphs">10</text>
<text x="1474.6" y="1176.7" font-size="30.5" fill="#ff0e04" textLength="27.6" lengthAdjust="spacingAndGlyphs">20</text>
<text x="1474.6" y="1107.6" font-size="30.5" fill="#ff0e04" textLength="27.6" lengthAdjust="spacingAndGlyphs">30</text>
<text x="1474.6" y="1038.6" font-size="30.5" fill="#ff0e04" textLength="27.6" lengthAdjust="spacingAndGlyphs">40</text>
<text x="1474.6" y="969.5" font-size="30.5" fill="#ff0e04" textLength="27.6" lengthAdjust="spacingAndGlyphs">50</text>
<text x="1474.6" y="900.4" font-size="30.5" fill="#ff0e04" textLength="27.6" lengthAdjust="spacingAndGlyphs">60</text>
<text x="1474.6" y="831.4" font-size="30.5" fill="#ff0e04" textLength="27.6" lengthAdjust="spacingAndGlyphs">70</text>
<text x="1474.6" y="762.3" font-size="30.5" fill="#ff0e04" textLength="27.6" lengthAdjust="spacingAndGlyphs">80</text>
<text x="688.1" y="1479.0" font-size="29" text-anchor="middle">1−2</text>
<text x="859.5" y="1479.0" font-size="29" text-anchor="middle">2−3</text>
<text x="1030.8" y="1479.0" font-size="29" text-anchor="middle">3−4</text>
<text x="1202.2" y="1479.0" font-size="29" text-anchor="middle">4−5</text>
<text y="1479.0" font-size="29"><tspan x="1354.3" dy="1.6" font-size="36.2" textLength="23.0" lengthAdjust="spacingAndGlyphs">&gt;</tspan><tspan x="1379.6" dy="-1.6">5</tspan></text>
<text x="1025.0" y="1517.0" font-size="33" text-anchor="middle" textLength="116.0" lengthAdjust="spacingAndGlyphs">Size/μm</text>
<text transform="translate(543.7,1158.7) rotate(-90)" font-size="37" textLength="117" lengthAdjust="spacingAndGlyphs">Number</text>
<text transform="translate(1543,1140.5) rotate(-90)" font-size="36" fill="#ff0e04"><tspan font-style="italic">E</tspan><tspan font-size="24" dy="10">AF</tspan><tspan dy="-10">/%</tspan></text>
<line x1="688.1" y1="977.0" x2="859.5" y2="928.7" stroke="#f01818" stroke-width="1.8"/>
<line x1="859.5" y1="928.7" x2="1030.8" y2="1037.1" stroke="#f01818" stroke-width="1.8"/>
<line x1="1030.8" y1="1037.1" x2="1202.2" y2="1073.1" stroke="#f01818" stroke-width="1.8"/>
<line x1="688.1" y1="1095.8" x2="859.5" y2="1010.9" stroke="#000" stroke-width="2"/>
<line x1="859.5" y1="1010.9" x2="1030.8" y2="966.7" stroke="#000" stroke-width="2"/>
<line x1="1030.8" y1="966.7" x2="1202.2" y2="1114.5" stroke="#000" stroke-width="2"/>
<line x1="1202.2" y1="1114.5" x2="1373.6" y2="1303.1" stroke="#000" stroke-width="2"/>
<rect x="680.6" y="969.5" width="15" height="15" fill="#ee3a40"/>
<rect x="852.0" y="921.2" width="15" height="15" fill="#ee3a40"/>
<rect x="1023.3" y="1029.6" width="15" height="15" fill="#ee3a40"/>
<rect x="1194.7" y="1065.6" width="15" height="15" fill="#ee3a40"/>
<rect x="680.6" y="1088.3" width="15" height="15" fill="#000"/>
<rect x="852.0" y="1003.4" width="15" height="15" fill="#000"/>
<rect x="1023.3" y="959.2" width="15" height="15" fill="#000"/>
<rect x="1194.7" y="1107.0" width="15" height="15" fill="#000"/>
<rect x="1366.1" y="1295.6" width="15" height="15" fill="#000"/>
<rect x="1146.9" y="755.4" width="70.6" height="33.6" fill="#c8f2a2" stroke="#000" stroke-width="1.3" stroke-linejoin="round"/>
<rect x="1146.9" y="755.4" width="70.6" height="33.6" fill="url(#br)" stroke="#000" stroke-width="1.3" stroke-linejoin="round"/>
<rect x="1146.9" y="795.3" width="70.6" height="33.6" fill="#f0f7c4" stroke="#000" stroke-width="1.3" stroke-linejoin="round"/>
<rect x="1146.9" y="795.3" width="70.6" height="33.6" fill="url(#zz)" stroke="#000" stroke-width="1.3" stroke-linejoin="round"/>
<rect x="1146.9" y="835.2" width="70.6" height="33.6" fill="#5b70be" stroke="#000" stroke-width="1.3" stroke-linejoin="round"/>
<rect x="1146.9" y="835.2" width="70.6" height="33.6" fill="url(#hf13)" stroke="#000" stroke-width="1.3" stroke-linejoin="round"/>
<rect x="1146.9" y="875.1" width="70.6" height="33.6" fill="#78b82a" stroke="#000" stroke-width="1.3" stroke-linejoin="round"/>
<rect x="1146.9" y="875.1" width="70.6" height="33.6" fill="url(#hb13)" stroke="#000" stroke-width="1.3" stroke-linejoin="round"/>
<text x="1228.1" y="781.9" font-size="31.5" textLength="226.0" lengthAdjust="spacingAndGlyphs">TMA without AF</text>
<text x="1228.1" y="821.8" font-size="31.5" textLength="185.3" lengthAdjust="spacingAndGlyphs">TMA with AF</text>
<text x="1228.1" y="861.7" font-size="31.5" textLength="203.4" lengthAdjust="spacingAndGlyphs">TM without AF</text>
<text x="1228.1" y="901.6" font-size="31.5" textLength="159.4" lengthAdjust="spacingAndGlyphs">TM with AF</text>
<text x="1228.1" y="941.5" font-size="31.5" textLength="112.3" lengthAdjust="spacingAndGlyphs">TM steel</text>
<text x="1228.1" y="981.4" font-size="31.5" textLength="135.8" lengthAdjust="spacingAndGlyphs">TMA steel</text>
<line x1="1145.5" y1="931.7" x2="1169.0" y2="931.7" stroke="#000" stroke-width="2.2" stroke-linecap="round"/>
<line x1="1195.0" y1="931.7" x2="1219.0" y2="931.7" stroke="#000" stroke-width="2.2" stroke-linecap="round"/>
<rect x="1173.9" y="923.8" width="17.2" height="15.8" fill="#000"/>
<line x1="1145.5" y1="971.6" x2="1169.0" y2="971.6" stroke="#ff1a0f" stroke-width="2.2" stroke-linecap="round"/>
<line x1="1195.0" y1="971.6" x2="1219.0" y2="971.6" stroke="#ff1a0f" stroke-width="2.2" stroke-linecap="round"/>
<rect x="1173.9" y="963.7" width="17.2" height="15.8" fill="#ff1a0f"/>
<text x="691.5" y="952.8" font-size="35" text-anchor="middle" fill="#ff0e04">47.2</text>
<text x="863.6" y="903.7" font-size="35" text-anchor="middle" fill="#ff0e04">54.2</text>
<text x="1034.0" y="1013.4" font-size="35" text-anchor="middle" fill="#ff0e04">38.5</text>
<text x="1205.9" y="1048.7" font-size="35" text-anchor="middle" fill="#ff0e04">33.3</text>
<text x="682.3" y="1063.1" font-size="35" text-anchor="middle">30.0</text>
<text x="852.7" y="978.2" font-size="35" text-anchor="middle">42.3</text>
<text x="1023.0" y="935.1" font-size="35" text-anchor="middle">48.7</text>
<text x="1188.0" y="1159.3" font-size="35" text-anchor="middle">27.3</text>
<text x="1395.5" y="1279.3" font-size="35" text-anchor="middle">0.0</text>
<text x="723.9" y="1221.7" font-size="35" text-anchor="middle">19</text>
<text x="724.7" y="1381.4" font-size="35" text-anchor="middle">17</text>
<text x="891.0" y="1132.9" font-size="35" text-anchor="middle">22</text>
<text x="892.1" y="1348.7" font-size="35" text-anchor="middle">26</text>
<text x="1065.5" y="1372.3" font-size="35" text-anchor="middle">8</text>
<text x="1064.2" y="1428.6" font-size="35" text-anchor="middle">5</text>
<text x="1235.7" y="1410.2" font-size="35" text-anchor="middle">2</text>
<text x="1287.3" y="1428.6" font-size="35" text-anchor="middle">1</text>
<text x="654.5" y="1337.4" font-size="35" text-anchor="middle" fill="#fff">14</text>
<text x="654.0" y="1418.1" font-size="35" text-anchor="middle" fill="#fff">6</text>
<text x="826.1" y="1281.9" font-size="35" text-anchor="middle" fill="#fff">15</text>
<text x="826.1" y="1404.5" font-size="35" text-anchor="middle" fill="#fff">11</text>
<text x="997.0" y="1191.5" font-size="35" text-anchor="middle" fill="#fff">20</text>
<text x="997.0" y="1368.9" font-size="35" text-anchor="middle" fill="#fff">19</text>
<text x="1167.6" y="1388.0" font-size="35" text-anchor="middle" fill="#fff">8</text>
<text x="1167.6" y="1436.4" font-size="35" text-anchor="middle" fill="#fff">3</text>
<text x="1337.9" y="1429.9" font-size="35" text-anchor="middle" fill="#fff">4</text>
<line x1="1278.9" y1="1417.6" x2="1242.3" y2="1433.8" stroke="#000" stroke-width="1.4"/>
<text x="514.7" y="798.0" font-size="77" stroke="#000" stroke-width="0.7">c</text>
</g>
</svg></body></html>
